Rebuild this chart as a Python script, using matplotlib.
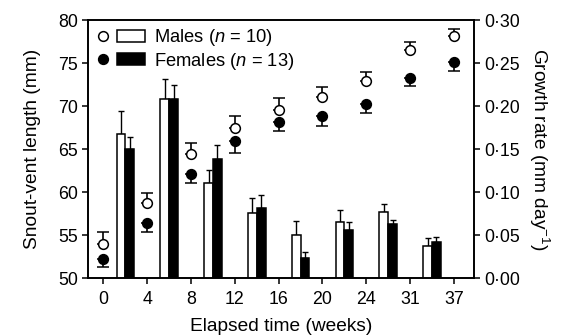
import numpy as np
import matplotlib
matplotlib.use('Agg')
import matplotlib.pyplot as plt
from matplotlib.lines import Line2D
from matplotlib.patches import Rectangle
from matplotlib.legend_handler import HandlerBase
from matplotlib.ticker import FuncFormatter

plt.rcParams['font.family'] = ['Liberation Sans', 'DejaVu Sans']
plt.rcParams['mathtext.fontset'] = 'custom'
plt.rcParams['mathtext.rm'] = 'Liberation Sans'
plt.rcParams['mathtext.it'] = 'Liberation Sans:italic'

# snout-vent length (left axis), one value per week
weeks = ['0', '4', '8', '12', '16', '20', '24', '31', '37']
svl_male = [54.0, 58.7, 64.4, 67.5, 69.6, 71.1, 72.9, 76.5, 78.2]
svl_male_err = [1.4, 1.15, 1.25, 1.4, 1.35, 1.1, 1.1, 0.9, 0.75]
svl_female = [52.2, 56.4, 62.1, 65.9, 68.2, 68.8, 70.3, 73.3, 75.1]
svl_female_err = [0.9, 1.1, 1.1, 1.3, 1.15, 1.1, 1.1, 1.0, 1.0]

# growth rate (right axis), one value per interval between weeks
gr_male = [0.168, 0.208, 0.111, 0.076, 0.050, 0.0655, 0.0764, 0.0376]
gr_male_err = [0.026, 0.024, 0.015, 0.017, 0.016, 0.0135, 0.010, 0.009]
gr_female = [0.150, 0.208, 0.138, 0.081, 0.023, 0.056, 0.0624, 0.042]
gr_female_err = [0.014, 0.016, 0.017, 0.016, 0.007, 0.009, 0.0056, 0.006]


class CircleBarHandler(HandlerBase):
    # circle marker on the left, bar patch on the right
    def create_artists(self, legend, orig_handle, xdescent, ydescent,
                       width, height, fontsize, trans):
        fc = orig_handle
        x0 = -xdescent
        yc = -ydescent + height / 2
        circ = Line2D([x0 + 0.11 * width], [yc], marker='o', ls='none', ms=7,
                      mfc=fc, mec='black', mew=1.1, transform=trans)
        rect = Rectangle((x0 + 0.41 * width, yc - 0.32 * fontsize), 0.59 * width, 0.64 * fontsize,
                         facecolor=fc, edgecolor='black', linewidth=1.1, transform=trans)
        return [circ, rect]


def main():
    fig = plt.figure(figsize=(5.65, 3.35), dpi=100)
    ax = fig.add_axes([0.156, 0.170, 0.683, 0.770])
    ax2 = ax.twinx()

    x = np.arange(len(weeks))
    xb = np.arange(len(gr_male)) + 0.5
    w = 0.2

    # growth rate bars
    ax2.bar(xb - w / 2, gr_male, w, color='white', edgecolor='black', linewidth=1.1, zorder=2)
    ax2.bar(xb + w / 2, gr_female, w, color='black', edgecolor='black', linewidth=1.1, zorder=2)
    ax2.errorbar(xb - w / 2, gr_male, yerr=[np.zeros(len(gr_male)), gr_male_err],
                 fmt='none', ecolor='black', elinewidth=1, capsize=2.2, capthick=1, zorder=1)
    ax2.errorbar(xb + w / 2, gr_female, yerr=[np.zeros(len(gr_female)), gr_female_err],
                 fmt='none', ecolor='black', elinewidth=1, capsize=2.2, capthick=1, zorder=1)

    # snout-vent length points
    ax.errorbar(x, svl_male, yerr=[np.zeros(len(x)), svl_male_err], fmt='o', ms=7,
                mfc='white', mec='black', mew=1.1, ecolor='black', elinewidth=1.2,
                capsize=4, capthick=1.2, zorder=3)
    ax.errorbar(x, svl_female, yerr=[svl_female_err, np.zeros(len(x))], fmt='o', ms=7,
                mfc='black', mec='black', mew=1.1, ecolor='black', elinewidth=1.2,
                capsize=4, capthick=1.2, zorder=3)

    ax.set_xlim(-0.35, 8.46)
    ax.set_ylim(50, 80)
    ax2.set_ylim(0, 0.30)
    ax.set_xticks(x)
    ax.set_xticklabels(weeks)
    ax.set_yticks(range(50, 81, 5))
    ax2.set_yticks(np.arange(0, 0.31, 0.05))
    ax2.yaxis.set_major_formatter(FuncFormatter(lambda v, p: '{:.2f}'.format(v).replace('.', '\u00b7')))

    for a in (ax, ax2):
        a.tick_params(direction='out', length=4.3, width=1.1, labelsize=12.8, colors='black', pad=3)
        for s in a.spines.values():
            s.set_linewidth(1.2)
    ax.tick_params(axis='x', pad=5)

    ax.set_xlabel('Elapsed time (weeks)', fontsize=13.8, labelpad=7)
    ax.set_ylabel('Snout-vent length (mm)', fontsize=13.8, labelpad=12)
    ax2.set_ylabel('Growth rate (mm day$^{-1}$)', fontsize=13.8, rotation=270, labelpad=22)

    ax2.legend(['white', 'black'], ['Males ($n$ = 10)', 'Females ($n$ = 13)'],
               handler_map={str: CircleBarHandler()},
               loc='upper left', bbox_to_anchor=(0.024, 0.972), frameon=False, fontsize=13.2,
               handlelength=2.6, handletextpad=0.5, labelspacing=0.12,
               borderaxespad=0, borderpad=0)

    plt.savefig('out.png', dpi=100)


if __name__ == '__main__':
    main()
